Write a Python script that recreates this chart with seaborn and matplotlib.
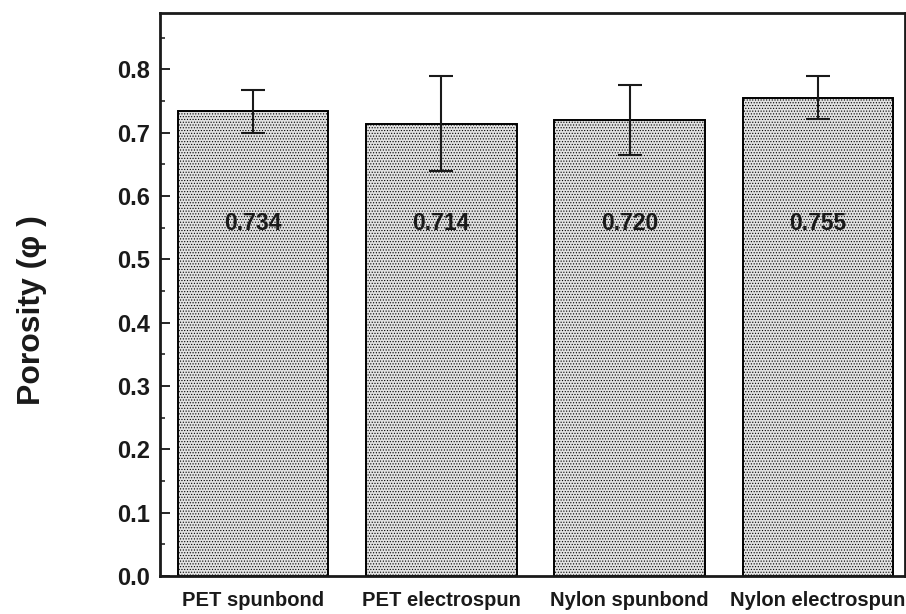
import matplotlib
matplotlib.use("Agg")
import matplotlib.pyplot as plt
from matplotlib.ticker import MultipleLocator, FormatStrFormatter
import seaborn as sns
import pandas as pd

# Porosity of the four membranes (mean and standard deviation)
categories = ["PET spunbond", "PET electrospun", "Nylon spunbond", "Nylon electrospun"]
porosity = [0.734, 0.714, 0.720, 0.755]
porosity_sd = [0.034, 0.075, 0.056, 0.034]
value_labels = ["0.734", "0.714", "0.720", "0.755"]

df = pd.DataFrame({"sample": categories, "porosity": porosity})

sns.set_theme(style="white")
plt.rcParams["font.family"] = ["Liberation Sans", "DejaVu Sans"]
plt.rcParams["hatch.color"] = "#bdbdbd"
plt.rcParams["hatch.linewidth"] = 0.5

fig = plt.figure(figsize=(9.06, 6.14), dpi=100)
ax = fig.add_axes([160 / 906, 38 / 614, 745 / 906, 563 / 614])

sns.barplot(data=df, x="sample", y="porosity", ax=ax, color="#e2e2e2",
            width=0.8, edgecolor="black", linewidth=1.4, errorbar=None,
            saturation=1)
for bar in ax.patches:
    bar.set_hatch("......")

xpos = list(range(len(categories)))
ax.errorbar(xpos, porosity, yerr=porosity_sd, fmt="none", ecolor="#1a1a1a",
            elinewidth=1.5, capsize=8.5, capthick=1.5, zorder=5)

for x, lbl in zip(xpos, value_labels):
    ax.text(x, 0.557, lbl, ha="center", va="center", fontsize=16.5,
            fontweight="bold", color="#1a1a1a", zorder=6)

ax.set_xlim(-0.494, 3.463)
ax.set_ylim(0, 0.889)
ax.yaxis.set_major_locator(MultipleLocator(0.1))
ax.yaxis.set_minor_locator(MultipleLocator(0.05))
ax.yaxis.set_major_formatter(FormatStrFormatter("%.1f"))

ax.tick_params(axis="y", which="major", direction="in", length=7.5, width=1.4,
               labelsize=17, pad=7, left=True)
ax.tick_params(axis="y", which="minor", direction="in", length=3.5, width=1.2,
               left=True)
ax.tick_params(axis="x", length=0, labelsize=14.5, pad=11)
for lab in ax.get_yticklabels() + ax.get_xticklabels():
    lab.set_fontweight("bold")
    lab.set_color("#1a1a1a")

ax.set_xlabel("")
ax.set_ylabel("Porosity (φ )", fontsize=23, fontweight="bold", color="#1a1a1a",
              va="center")
ax.yaxis.set_label_coords(-0.172, 0.4725)

for side in ["left", "bottom", "top", "right"]:
    ax.spines[side].set_visible(True)
    ax.spines[side].set_linewidth(2)
    ax.spines[side].set_color("#1a1a1a")

fig.savefig("out.png", dpi=100)
